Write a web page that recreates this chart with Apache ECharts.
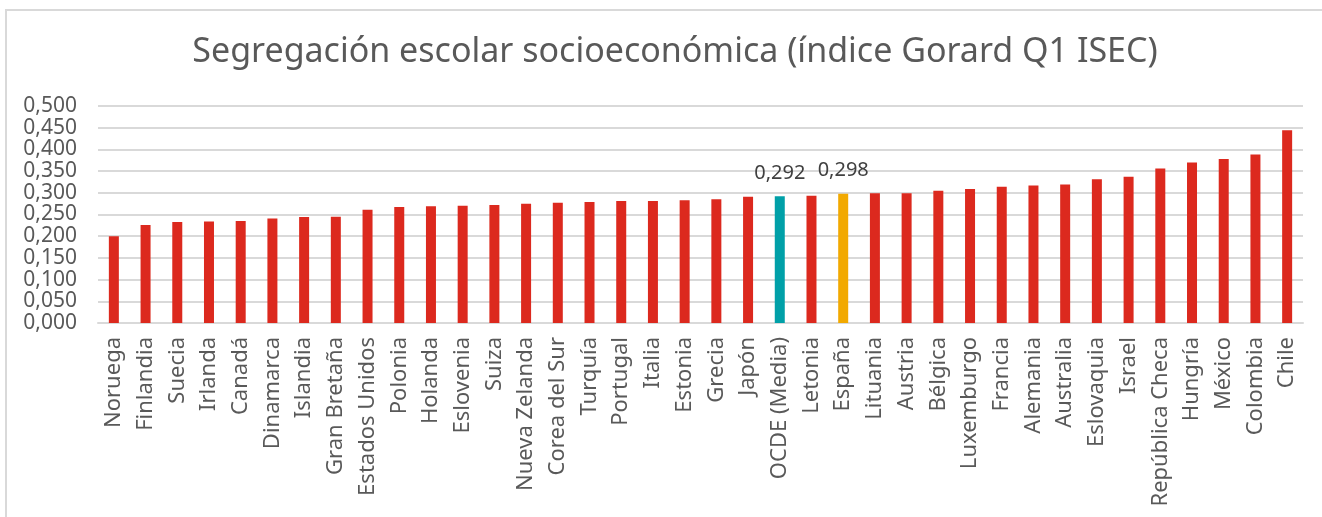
<!DOCTYPE html>
<html><head><meta charset="utf-8">
<script src="https://cdn.jsdelivr.net/npm/echarts@6/dist/echarts.min.js"></script>
<style>html,body{margin:0;padding:0;background:#fff}#c{width:1322px;height:517px}</style>
</head><body><div id="c"></div>
<script>
const titleText = 'Segregación escolar socioeconómica (índice Gorard Q1 ISEC)';
const categories = ['Noruega','Finlandia','Suecia','Irlanda','Canadá','Dinamarca','Islandia','Gran Bretaña','Estados Unidos','Polonia','Holanda','Eslovenia','Suiza','Nueva Zelanda','Corea del Sur','Turquía','Portugal','Italia','Estonia','Grecia','Japón','OCDE (Media)','Letonia','España','Lituania','Austria','Bélgica','Luxemburgo','Francia','Alemania','Australia','Eslovaquia','Israel','República Checa','Hungría','México','Colombia','Chile'];
const values = [0.200,0.226,0.233,0.234,0.235,0.241,0.244,0.245,0.261,0.267,0.269,0.270,0.272,0.275,0.277,0.279,0.281,0.281,0.283,0.285,0.291,0.292,0.293,0.298,0.299,0.299,0.305,0.309,0.314,0.317,0.319,0.331,0.337,0.356,0.370,0.378,0.388,0.444];
const highlighted = {'OCDE (Media)':'#00a0a8','España':'#f2a900'};
const labelled = ['OCDE (Media)','España'];
const yTicks = [0,0.05,0.1,0.15,0.2,0.25,0.3,0.35,0.4,0.45,0.5];

const fmt = v => v.toFixed(3).replace('.', ',');
const font = '"Noto Sans", sans-serif';
const chart = echarts.init(document.getElementById('c'), null, {renderer:'canvas'});
chart.setOption({
  animation:false,
  backgroundColor:'#fff',
  graphic:[{type:'rect', shape:{x:6,y:10,width:1400,height:700}, style:{fill:'none', stroke:'#d9d9d9', lineWidth:2}, silent:true}],
  title:{text:titleText, left:670, textAlign:'center', top:30, textStyle:{fontFamily:font, fontSize:34, fontWeight:'normal', color:'#595959'}},
  grid:{left:98, right:19, top:106, bottom:194, containLabel:false},
  xAxis:{type:'category', data:categories,
    axisLine:{lineStyle:{color:'#d9d9d9', width:2}}, axisTick:{show:false},
    axisLabel:{rotate:90, interval:0, color:'#595959', fontFamily:font, fontSize:22, margin:14}},
  yAxis:{type:'value', min:0, max:0.5, interval:0.05,
    axisLine:{show:false}, axisTick:{show:false},
    splitLine:{lineStyle:{color:'#d9d9d9', width:2}},
    axisLabel:{color:'#595959', fontFamily:font, fontSize:21, margin:21, formatter:v=>fmt(v)}},
  series:[{type:'bar', barWidth:10,
    data: values.map((v,i)=>({value:v,
      itemStyle:{color: highlighted[categories[i]] || '#dc291e'},
      label:{show: labelled.includes(categories[i])}})),
    label:{position:'top', distance:13, color:'#404040', fontFamily:font, fontSize:20, formatter:p=>fmt(p.value)}
  }]
});
</script></body></html>
